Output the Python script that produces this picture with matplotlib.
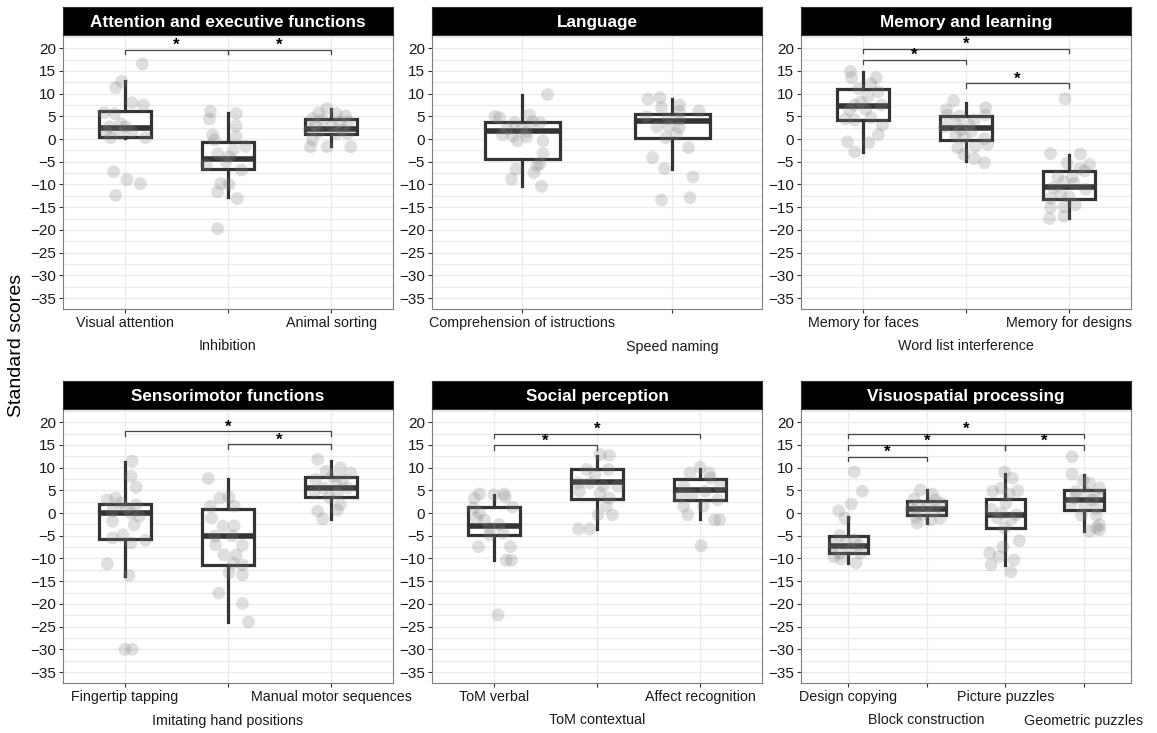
import matplotlib.pyplot as plt
from matplotlib.ticker import MultipleLocator

plt.rcParams['font.family'] = ['Liberation Sans', 'DejaVu Sans']

# facet titles and test names
titles = ["Attention and executive functions", "Language", "Memory and learning",
          "Sensorimotor functions", "Social perception", "Visuospatial processing"]
attention_tests = ["Visual attention", "Inhibition", "Animal sorting"]
language_tests = ["Comprehension of istructions", "Speed naming"]
memory_tests = ["Memory for faces", "Word list interference", "Memory for designs"]
sensorimotor_tests = ["Fingertip tapping", "Imitating hand positions", "Manual motor sequences"]
social_tests = ["ToM verbal", "ToM contextual", "Affect recognition"]
visuo_tests = ["Design copying", "Block construction", "Picture puzzles", "Geometric puzzles"]

# individual standard scores and their jitter
attention_scores = [
    [16.5, 12.7, 11.3, 8.0, 7.5, 5.8, 5.6, 3.4, 2.7, 2.7, 1.6, 1.2, 0.3, 0.3, 1.6, -7.2, -8.9, -9.8, -12.4],
    [6.1, 5.6, 4.4, 2.9, 0.9, 0.5, -0.2, -1.6, -2.4, -3.2, -3.9, -5.0, -5.7, -6.8, -9.8, -10.0, -11.6, -13.1, -19.7],
    [6.7, 5.8, 5.6, 4.5, 5.1, 4.2, 3.8, 3.8, 3.1, 2.8, 2.0, 2.0, 1.6, 1.2, 1.2, -0.2, -1.7, -1.7, -1.7],
]
attention_jitter = [
    [0.17, -0.03, -0.09, 0.07, 0.18, -0.2, -0.1, -0.04, -0.15, 0.01, -0.18, -0.05, -0.14, 0.2, 0.07, -0.11, 0.02, 0.15, -0.09],
    [-0.17, 0.08, -0.18, 0.08, -0.15, 0.08, -0.13, 0.17, 0.05, -0.1, 0.01, -0.02, -0.21, 0.13, -0.07, 0.01, -0.1, 0.09, -0.1],
    [-0.04, -0.12, 0.05, -0.18, 0.14, -0.08, 0.08, 0.17, -0.15, 0.01, -0.21, 0.11, -0.12, 0.05, 0.16, -0.18, -0.2, -0.04, 0.19],
]
language_scores = [
    [9.8, 5.0, 4.7, 5.3, 3.6, 3.8, 3.6, 2.3, 2.3, 1.6, 0.9, 0.6, 0.5, -0.4, -0.4, -3.2, -5.4, -5.9, -6.6, -7.4, -8.8, -10.4],
    [8.8, 9.1, 7.5, 6.9, 6.2, 6.0, 4.9, 4.5, 4.3, 2.7, 2.8, 2.5, 1.2, 0.3, -1.9, -4.1, -6.5, -8.3, -13.4, -12.9],
]
language_jitter = [
    [0.17, -0.18, -0.15, 0.05, -0.05, 0.07, 0.12, -0.1, 0.0, 0.03, -0.13, -0.06, 0.03, -0.03, 0.14, 0.14, 0.12, 0.1, -0.04, 0.08, -0.07, 0.13],
    [-0.16, -0.08, 0.05, -0.07, 0.18, 0.05, -0.17, -0.03, 0.05, -0.1, -0.02, 0.05, 0.03, -0.04, 0.11, -0.13, -0.05, 0.14, -0.07, 0.12],
]
memory_scores = [
    [14.9, 13.5, 13.5, 12.2, 11.1, 10.4, 9.3, 8.2, 7.5, 7.5, 6.4, 6.5, 4.4, 4.2, 4.7, 3.1, 1.0, -0.8, -0.6, -2.8],
    [8.4, 6.5, 6.9, 5.3, 5.1, 5.3, 4.2, 3.4, 3.1, 2.7, 2.1, 1.6, 0.9, 0.3, 0.1, -1.6, -1.2, -1.9, -3.4, -4.3, -5.2],
    [8.9, -3.2, -3.3, -5.6, -5.3, -6.5, -7.0, -8.3, -8.3, -9.4, -9.8, -10.7, -11.0, -12.0, -12.7, -13.1, -14.5, -15.1, -14.9, -17.5, -17.0],
]
memory_jitter = [
    [-0.12, -0.11, 0.13, 0.08, -0.04, 0.15, 0.05, -0.02, -0.08, 0.18, -0.13, 0.03, -0.17, -0.08, 0.08, 0.19, 0.15, 0.06, -0.15, -0.08],
    [-0.12, -0.19, 0.19, -0.18, -0.06, 0.19, 0.08, -0.1, 0.03, -0.21, -0.05, 0.05, -0.1, -0.02, 0.18, 0.09, 0.21, -0.08, -0.02, 0.08, 0.18],
    [-0.04, -0.18, 0.11, 0.2, -0.02, 0.1, 0.15, -0.11, 0.03, -0.05, 0.05, -0.15, 0.16, -0.08, 0.0, -0.18, 0.06, -0.18, -0.05, -0.19, -0.05],
]
sensorimotor_scores = [
    [11.4, 8.1, 5.7, 2.9, 3.3, 2.2, 1.8, 1.1, 0.4, 0.0, -0.7, -1.8, -2.6, -5.5, -4.8, -6.6, -6.0, -11.2, -13.75, -30.0, -30.0],
    [7.6, 3.3, 3.5, 1.5, 1.5, -1.1, -2.9, -2.8, -5.1, -5.0, -7.0, -7.1, -9.2, -9.2, -11.0, -11.4, -13.2, -13.6, -17.6, -19.9, -24.0],
    [11.8, 10.0, 9.2, 8.8, 8.1, 7.4, 7.4, 6.3, 5.5, 5.5, 4.8, 4.4, 3.5, 1.8, 0.4, 0.7, -1.3],
]
sensorimotor_jitter = [
    [0.07, 0.06, 0.11, -0.17, -0.09, -0.04, 0.11, 0.01, -0.12, 0.06, 0.14, -0.12, 0.09, -0.12, -0.02, 0.06, 0.2, -0.17, 0.04, 0.0, 0.07],
    [-0.19, -0.08, 0.01, -0.17, 0.06, -0.16, -0.05, 0.06, -0.13, 0.04, -0.12, 0.14, -0.04, 0.08, 0.05, 0.14, 0.01, 0.14, -0.09, 0.14, 0.2],
    [-0.13, 0.09, -0.05, 0.19, 0.01, -0.15, 0.11, 0.05, -0.07, 0.16, -0.16, 0.06, -0.02, 0.09, -0.13, 0.06, -0.08],
]
social_scores = [
    [4.2, 3.3, 4.0, 4.2, 3.5, 1.3, 1.1, 0.0, -1.5, -1.1, -3.3, -4.4, -4.8, -7.4, -7.4, -10.4, -10.4, -22.4, -2.5],
    [12.9, 12.7, 9.6, 9.6, 8.5, 6.6, 6.6, 5.9, 5.9, 4.8, 4.4, 3.3, 1.5, -0.4, -0.4, -3.5, -3.5],
    [10.1, 8.8, 8.8, 7.7, 5.9, 5.9, 4.8, 4.0, 3.7, 2.9, 1.5, 1.5, -0.4, -1.5, -1.5, -7.2],
]
social_jitter = [
    [-0.14, -0.19, 0.0, 0.1, 0.11, 0.18, -0.2, -0.14, -0.09, -0.17, -0.04, 0.09, -0.04, -0.15, 0.16, 0.17, 0.12, 0.04, 0.05],
    [0.03, 0.12, -0.1, 0.11, -0.02, -0.18, -0.07, 0.06, 0.2, -0.17, 0.03, 0.12, 0.09, 0.01, 0.15, -0.18, -0.07],
    [0.0, -0.1, 0.09, 0.1, -0.16, 0.19, 0.05, -0.08, -0.2, 0.17, -0.16, 0.03, -0.12, 0.14, 0.19, 0.01],
]
visuo_scores = [
    [9.1, 4.8, 2.0, 0.5, -1.1, -4.9, -5.9, -6.6, -7.0, -7.0, -8.1, -8.8, -8.8, -9.6, -10.1, -11.0],
    [5.1, 4.2, 3.1, 2.9, 2.2, 1.8, 1.5, 1.0, 0.4, -0.2, -0.9, -1.1, -2.2, -1.5],
    [9.0, 7.7, 5.5, 4.8, 4.9, 4.2, 2.2, 0.8, 0.0, -0.4, -1.1, -1.5, -3.3, -6.1, -7.4, -8.8, -9.6, -10.3, -11.4, -12.9],
    [12.4, 8.6, 7.2, 6.6, 5.5, 4.8, 4.4, 4.0, 3.3, 2.9, 2.2, 1.5, 1.1, -0.5, -0.5, -2.6, -3.3, -4.0, -3.7],
]
visuo_jitter = [
    [0.08, 0.18, 0.04, -0.12, -0.04, -0.11, 0.08, -0.03, -0.18, 0.14, 0.03, -0.11, 0.16, -0.18, -0.09, 0.1],
    [-0.08, 0.07, -0.16, 0.11, 0.18, -0.1, 0.01, -0.2, 0.09, -0.06, -0.14, 0.17, -0.12, 0.05],
    [-0.01, 0.09, -0.05, -0.16, 0.16, 0.05, 0.01, -0.18, -0.05, 0.14, -0.1, 0.07, -0.01, 0.18, -0.03, -0.2, -0.08, 0.11, -0.18, 0.07],
    [-0.15, -0.15, -0.01, 0.07, 0.2, -0.1, 0.03, 0.18, -0.12, 0.11, -0.16, 0.01, 0.16, -0.03, 0.16, 0.2, 0.16, 0.07, 0.2],
]

# box summaries: q1, median, q3, whisker low, whisker high
box_q1 = [[0.5, -6.6, 1.1], [-4.3, 0.3], [4.3, -0.2, -13.1],
          [-5.8, -11.4, 3.5], [-4.8, 3.2, 2.9], [-8.9, -0.5, -3.3, 0.7]]
box_med = [[2.5, -4.3, 2.3], [1.7, 3.9], [7.3, 2.5, -10.5],
           [0.0, -5.0, 5.5], [-2.9, 6.9, 5.0], [-7.3, 1.0, -0.5, 2.9]]
box_q3 = [[6.1, -0.6, 4.4], [3.8, 5.5], [11.1, 5.1, -7.0],
          [2.0, 0.9, 7.9], [1.25, 9.6, 7.4], [-5.0, 2.7, 3.1, 5.1]]
box_lo = [[0.3, -12.7, -1.5], [-10.4, -6.5], [-2.8, -4.9, -17.3],
          [-13.75, -24.0, -1.3], [-10.4, -3.5, -1.3], [-10.9, -2.2, -11.4, -4.0]]
box_hi = [[12.7, 5.8, 6.7], [9.7, 8.8], [14.8, 8.0, -3.4],
          [11.25, 7.5, 11.5], [3.9, 12.6, 9.7], [-0.96, 5.1, 8.6, 8.3]]

# significant comparisons: (from, to, bracket height)
signif = [
    [(0, 1, 19.7), (1, 2, 19.7)],
    [],
    [(0, 2, 19.9), (0, 1, 17.5), (1, 2, 12.3)],
    [(0, 2, 18.0), (1, 2, 15.1)],
    [(0, 2, 17.5), (0, 1, 14.9)],
    [(0, 3, 17.5), (0, 2, 14.9), (2, 3, 14.9), (0, 1, 12.4)],
]

tests = [attention_tests, language_tests, memory_tests, sensorimotor_tests, social_tests, visuo_tests]
scores = [attention_scores, language_scores, memory_scores, sensorimotor_scores, social_scores, visuo_scores]
jitter = [attention_jitter, language_jitter, memory_jitter, sensorimotor_jitter, social_jitter, visuo_jitter]

W, H = 1157, 733
fig = plt.figure(figsize=(W / 100, H / 100), dpi=100)

col_left = [63, 432, 801]
panel_w = 330
row_top = [35, 409]
panel_h = 274
strip_h = 28
dark = '#333333'

for k in range(6):
    r, c = divmod(k, 3)
    x0 = col_left[c]
    y0 = row_top[r]
    ax = fig.add_axes([x0 / W, 1 - (y0 + panel_h) / H, panel_w / W, panel_h / H])
    sax = fig.add_axes([x0 / W, 1 - y0 / H, panel_w / W, strip_h / H])
    sax.set_facecolor('black')
    sax.set_xticks([])
    sax.set_yticks([])
    for s in sax.spines.values():
        s.set_color('#333333')
        s.set_linewidth(0.8)
    sax.text(0.5, 0.45, titles[k], color='white', fontsize=12.3, fontweight='bold',
             ha='center', va='center', transform=sax.transAxes)

    n = len(tests[k])
    pos = list(range(n))
    stats = []
    for i in range(n):
        stats.append(dict(q1=box_q1[k][i], med=box_med[k][i], q3=box_q3[k][i],
                          whislo=box_lo[k][i], whishi=box_hi[k][i], fliers=[]))
    ax.bxp(stats, positions=pos, widths=0.5, showcaps=False, showfliers=False,
           patch_artist=True,
           boxprops=dict(facecolor='white', edgecolor=dark, linewidth=2.3),
           whiskerprops=dict(color=dark, linewidth=2.3),
           medianprops=dict(color=dark, linewidth=4.0, solid_capstyle='butt'),
           zorder=2)

    for i in range(n):
        xs = [i + j for j in jitter[k][i]]
        ax.scatter(xs, scores[k][i], s=85, color='#808080', alpha=0.25,
                   edgecolors='none', zorder=3)

    for (a, b, y) in signif[k]:
        ax.plot([a, a, b, b], [y - 1.0, y, y, y - 1.0], color='#444444', lw=0.9, zorder=4)
        ax.text((a + b) / 2, y + 0.9, '*', ha='center', va='center', fontsize=12,
                fontweight='bold', color='black', zorder=4)

    ax.set_xlim(-0.6, n - 1 + 0.6)
    ax.set_ylim(-37.4, 22.9)
    ax.yaxis.set_major_locator(MultipleLocator(5))
    ax.yaxis.set_minor_locator(MultipleLocator(2.5))
    ax.set_xticks(pos)
    ax.set_xticklabels([])
    ax.grid(True, which='both', axis='y', color='#ebebeb', linewidth=1.0, zorder=0)
    ax.grid(True, which='major', axis='x', color='#ebebeb', linewidth=1.0, zorder=0)
    ax.set_axisbelow(True)
    ax.tick_params(axis='y', which='minor', length=0)
    ax.tick_params(axis='both', which='major', length=3, width=0.8, color='#333333',
                   labelsize=11, labelcolor='#1a1a1a', pad=2)
    for s in ax.spines.values():
        s.set_color('#7f7f7f')
        s.set_linewidth(0.8)

    # dodged x labels in two rows
    for i, lab in enumerate(tests[k]):
        off = -10 if i % 2 == 0 else -27
        ax.annotate(lab, xy=(i, 0), xycoords=('data', 'axes fraction'),
                    xytext=(0, off), textcoords='offset points',
                    ha='center', va='center', fontsize=10.3, color='#1a1a1a')

fig.text(17 / W, 1 - 345 / H, 'Standard scores', rotation=90, ha='center', va='center',
         fontsize=14, color='black')

fig.savefig('out.png', dpi=100)
